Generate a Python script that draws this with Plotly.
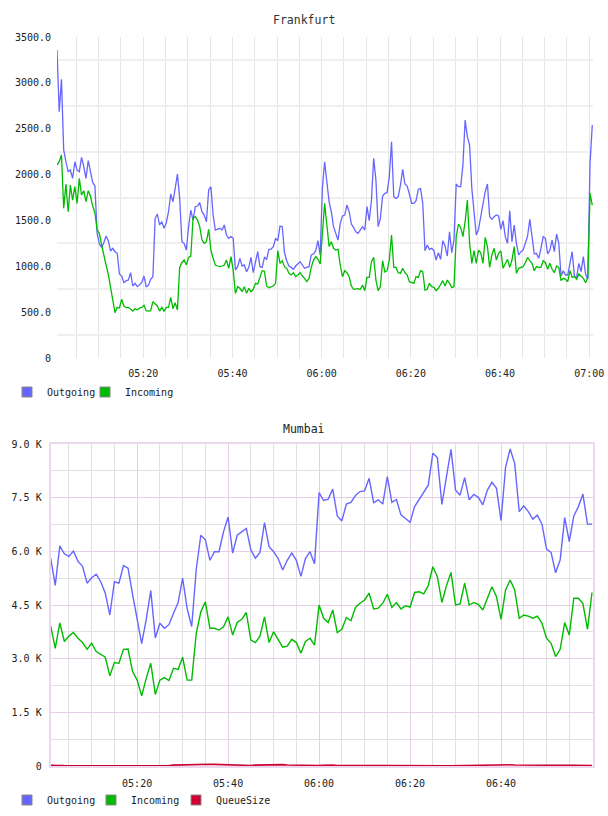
import pandas as pd
import plotly.graph_objects as go

DAY = "2024-01-01"

# ---------------- Frankfurt (30 s samples from 05:00:40) ----------------
frankfurt_outgoing = [
    3358, 2686, 3038, 2268, 2140, 2031, 2050, 1959, 2140, 2050,
    2031, 2188, 2086, 1959, 2152, 2031, 1915, 1875, 1359, 1243,
    1206, 1257, 1330, 1279, 1167, 1196, 1159, 1141, 916, 894,
    821, 843, 850, 930, 785, 814, 778, 796, 825, 894,
    778, 792, 858, 887, 1523, 1570, 1450, 1486, 1414, 1475,
    1595, 1788, 1704, 1850, 2006, 1741, 1268, 1250, 1177, 1432,
    1613, 1504, 1650, 1657, 1693, 1595, 1559, 1486, 1832, 1868,
    1559, 1395, 1403, 1414, 1395, 1450, 1341, 1305, 1323, 1305,
    959, 996, 1087, 1003, 1014, 941, 988, 1097, 930, 1068,
    1159, 996, 988, 1097, 1076, 1185, 1188, 1214, 1305, 1279,
    1439, 1432, 1148, 1061, 1003, 988, 967, 1003, 1032, 1050,
    1014, 978, 988, 996, 1123, 1134, 1170, 1279, 1123, 1850,
    2140, 1900, 1704, 1595, 1432, 1359, 1286, 1468, 1548, 1559,
    1668, 1595, 1461, 1421, 1377, 1359, 1403, 1432, 1395, 1650,
    1497, 1722, 2177, 1941, 1432, 1523, 1766, 1795, 1802, 1977,
    2358, 1759, 1741, 1759, 1886, 2057, 1897, 1875, 1788, 1686,
    1686, 1715, 1839, 1850, 1686, 1170, 1232, 1185, 1196, 1170,
    1068, 1148, 1076, 1279, 1221, 1112, 1377, 1148, 1286, 1897,
    1868, 1868, 2100, 2595, 2413, 2322, 1850, 1632, 1341, 1403,
    1523, 1679, 1813, 1897, 1541, 1512, 1541, 1559, 1548, 1403,
    1497, 1323, 1250, 1606, 1268, 1450, 1250, 1123, 1159, 1177,
    1250, 1330, 1512, 1286, 1134, 1141, 1087, 1196, 1323, 1305,
    1134, 1177, 1286, 1159, 1352, 1250, 894, 952, 905, 905,
    1050, 1159, 894, 880, 1032, 941, 1105, 916, 858, 2122,
    2540,
]
frankfurt_incoming = [
    2104, 2140, 2213, 1632, 1897, 1595, 1886, 1722, 1868, 1686,
    1959, 1777, 1824, 1704, 1824, 1766, 1657, 1584, 1395, 1359,
    1232, 1105, 1014, 912, 770, 650, 494, 552, 545, 640,
    567, 549, 552, 531, 512, 538, 523, 545, 552, 574,
    516, 512, 516, 614, 589, 567, 512, 552, 509, 552,
    552, 661, 538, 603, 523, 988, 1039, 1068, 1014, 1097,
    1112, 1523, 1541, 1504, 1432, 1286, 1250, 1268, 1403, 1177,
    1087, 1014, 1003, 996, 1003, 1014, 1068, 978, 1105, 959,
    705, 778, 760, 723, 778, 705, 760, 723, 749, 814,
    807, 887, 952, 945, 785, 767, 778, 785, 814, 1170,
    1032, 1061, 996, 978, 923, 905, 930, 887, 905, 930,
    894, 869, 832, 869, 988, 1068, 1105, 1076, 1025, 1414,
    1686, 1450, 1217, 1268, 1196, 1177, 1185, 1014, 887, 952,
    930, 887, 785, 749, 756, 756, 749, 796, 734, 879,
    879, 1050, 1097, 850, 734, 778, 1061, 938, 952, 1068,
    1341, 988, 988, 930, 923, 978, 930, 905, 832, 821,
    814, 887, 879, 952, 941, 741, 749, 814, 778, 770,
    734, 760, 807, 843, 785, 850, 814, 770, 778, 1323,
    1461, 1424, 1323, 1486, 1722, 1250, 1032, 1170, 1032, 1177,
    1148, 1032, 1315, 1214, 988, 1123, 1196, 1068, 1141, 1167,
    978, 1032, 1076, 988, 1068, 1214, 923, 978, 988, 996,
    1039, 1097, 1061, 1032, 952, 996, 988, 988, 1061, 1039,
    967, 1032, 967, 930, 1003, 988, 843, 869, 858, 832,
    952, 879, 887, 858, 916, 887, 869, 821, 879, 1795,
    1668,
]

# ---------------- Mumbai (1 min samples from 05:01) ----------------
mumbai_outgoing = [
    5800, 5050, 6150, 5930, 5860, 6010, 5720, 5580, 5110, 5260,
    5360, 5150, 4830, 4220, 5150, 5110, 5600, 5530, 4800, 4100,
    3420, 4100, 4900, 3580, 3990, 3850, 3950, 4270, 4560, 5250,
    4400, 3900, 5500, 6450, 6320, 5750, 5990, 5990, 6550, 6960,
    5950, 6450, 6550, 6640, 6040, 5810, 5970, 6800, 6130, 5990,
    5800, 5480, 5750, 5950, 5750, 5300, 5800, 5990, 5650, 7640,
    7420, 7460, 7740, 6990, 6850, 7320, 7370, 7560, 7670, 7690,
    8040, 7360, 7440, 7320, 8090, 7370, 7450, 7020, 6920, 6810,
    7250, 7450, 7670, 7850, 8740, 8620, 7310, 8090, 8850, 7710,
    7570, 8060, 7440, 7590, 7510, 7300, 7710, 7930, 7760, 6860,
    8350, 8860, 8460, 7110, 7270, 7110, 6900, 7010, 6760, 6060,
    5970, 5400, 5760, 6940, 6270, 6990, 7250, 7600, 6760, 6760,
]
mumbai_incoming = [
    3910, 3290, 4000, 3480, 3630, 3730, 3570, 3450, 3260, 3430,
    3200, 3120, 3040, 2520, 2890, 2870, 3260, 3270, 2640, 2400,
    1960, 2450, 2870, 2000, 2400, 2470, 2390, 2730, 2700, 3040,
    2400, 2400, 3710, 4310, 4590, 3850, 3850, 3800, 3890, 4170,
    3660, 4010, 4100, 4290, 3520, 3450, 3630, 4170, 3450, 3750,
    3540, 3320, 3350, 3540, 3450, 3150, 3480, 3570, 3380, 4500,
    4130, 4010, 4360, 3730, 3820, 4150, 4060, 4430, 4550, 4640,
    4830, 4390, 4410, 4550, 4800, 4430, 4570, 4390, 4480, 4440,
    4850, 4870, 4810, 5040, 5570, 5290, 4570, 5040, 5410, 4500,
    4530, 5110, 4500, 4570, 4520, 4360, 4690, 5010, 4730, 4100,
    4920, 5200, 4920, 4130, 4220, 4190, 4130, 4190, 3990, 3570,
    3430, 3060, 3260, 4010, 3660, 4690, 4690, 4540, 3820, 4850,
]
mumbai_queue = [
    20, 25, 15, 10, 15, 12, 8, 5, 5, 6,
    4, 3, 5, 4, 3, 4, 5, 3, 4, 5,
    6, 4, 5, 8, 10, 12, 15, 25, 30, 28,
    20, 25, 30, 40, 55, 50, 45, 40, 38, 35,
    30, 20, 15, 12, 15, 25, 30, 35, 40, 45,
    42, 38, 30, 25, 20, 15, 10, 8, 10, 12,
    20, 30, 25, 15, 10, 8, 10, 12, 15, 18,
    20, 18, 15, 12, 10, 8, 6, 5, 6, 8,
    10, 12, 10, 8, 6, 5, 4, 5, 6, 8,
    10, 15, 20, 25, 30, 35, 38, 40, 42, 45,
    40, 35, 30, 28, 25, 20, 18, 15, 12, 10,
    8, 10, 12, 15, 18, 20, 18, 15, 12, 10,
]

frankfurt_y_ticks = [0, 500, 1000, 1500, 2000, 2500, 3000, 3500]
frankfurt_y_labels = ["0", "500.0", "1000.0", "1500.0", "2000.0", "2500.0", "3000.0", "3500.0"]
mumbai_y_ticks = [0, 1500, 3000, 4500, 6000, 7500, 9000]
mumbai_y_labels = ["0", "1.5 K", "3.0 K", "4.5 K", "6.0 K", "7.5 K", "9.0 K"]
frankfurt_x_labels = ["05:20", "05:40", "06:00", "06:20", "06:40", "07:00"]
mumbai_x_labels = ["05:20", "05:40", "06:00", "06:20", "06:40"]

frankfurt_time = pd.date_range(f"{DAY} 05:00:40", periods=len(frankfurt_outgoing), freq="30s")
mumbai_time = pd.date_range(f"{DAY} 05:01:00", periods=len(mumbai_outgoing), freq="1min")

BLUE = "#6666ff"
GREEN = "#00bb00"
RED = "#cc0033"
FONT = "DejaVu Sans Mono"
W, H = 608, 816

fig = go.Figure()
fig.add_trace(go.Scatter(x=frankfurt_time, y=frankfurt_outgoing, mode="lines", name="Outgoing",
                         line=dict(color=BLUE, width=1.3), xaxis="x", yaxis="y", showlegend=False))
fig.add_trace(go.Scatter(x=frankfurt_time, y=frankfurt_incoming, mode="lines", name="Incoming",
                         line=dict(color=GREEN, width=1.3), xaxis="x", yaxis="y", showlegend=False))
fig.add_trace(go.Scatter(x=mumbai_time, y=mumbai_outgoing, mode="lines", name="Outgoing",
                         line=dict(color=BLUE, width=1.4), xaxis="x2", yaxis="y2", showlegend=False))
fig.add_trace(go.Scatter(x=mumbai_time, y=mumbai_incoming, mode="lines", name="Incoming",
                         line=dict(color=GREEN, width=1.4), xaxis="x2", yaxis="y2", showlegend=False))
fig.add_trace(go.Scatter(x=mumbai_time, y=mumbai_queue, mode="lines", name="QueueSize",
                         line=dict(color=RED, width=1.6), xaxis="x2", yaxis="y2", showlegend=False))

def legend_proxy(name, color, legend, xa, ya):
    fig.add_trace(go.Scatter(x=[None], y=[None], mode="markers", name=name,
                             marker=dict(symbol="square", size=10, color=color,
                                         line=dict(color="#888888", width=1)),
                             legend=legend, xaxis=xa, yaxis=ya, showlegend=True))

# one legend per entry so each swatch sits where it does in the original
legend_proxy("Outgoing", BLUE, "legend", "x", "y")
legend_proxy("Incoming", GREEN, "legend2", "x", "y")
legend_proxy("Outgoing", BLUE, "legend3", "x2", "y2")
legend_proxy("Incoming", GREEN, "legend4", "x2", "y2")
legend_proxy("QueueSize", RED, "legend5", "x2", "y2")

tick_font = dict(family=FONT, size=10, color="#222222")
legend_common = dict(orientation="h", xanchor="left", yanchor="middle",
                     font=dict(family=FONT, size=10, color="#222222"),
                     bgcolor="rgba(0,0,0,0)", itemclick=False, itemdoubleclick=False)

fig.update_layout(
    width=W, height=H,
    margin=dict(l=0, r=0, t=0, b=0),
    paper_bgcolor="white", plot_bgcolor="white",
    xaxis=dict(
        type="date", domain=[57 / W, 593 / W], anchor="y",
        range=[f"{DAY} 05:00:40", f"{DAY} 07:00:50"],
        tickmode="array", tickvals=[f"{DAY} {t}" for t in frankfurt_x_labels], ticktext=frankfurt_x_labels,
        showgrid=True, gridcolor="#e6e6e6", gridwidth=1,
        minor=dict(tick0=f"{DAY} 05:00", dtick=300000, showgrid=True, gridcolor="#e6e6e6", gridwidth=1),
        ticks="", showline=False, zeroline=False, tickfont=tick_font, ticklabelstandoff=8,
        automargin=False, fixedrange=True,
    ),
    yaxis=dict(
        domain=[(H - 358) / H, (H - 37) / H], anchor="x", range=[0, 3500],
        tickmode="array", tickvals=frankfurt_y_ticks, ticktext=frankfurt_y_labels,
        showgrid=False,
        minor=dict(tick0=250, dtick=500, showgrid=True, gridcolor="#efefef", gridwidth=2),
        ticks="", showline=False, zeroline=False, tickfont=tick_font, ticklabelstandoff=5,
        automargin=False, fixedrange=True,
    ),
    xaxis2=dict(
        type="date", domain=[50.7 / W, 593 / W], anchor="y2",
        range=[f"{DAY} 05:01:00", f"{DAY} 07:00:13"],
        tickmode="array", tickvals=[f"{DAY} {t}" for t in mumbai_x_labels], ticktext=mumbai_x_labels,
        showgrid=True, gridcolor="#e6cfe6", gridwidth=1,
        minor=dict(tick0=f"{DAY} 05:00", dtick=300000, showgrid=True, gridcolor="#e0e0e0", gridwidth=1),
        ticks="", showline=True, mirror=True, linecolor="#ecd8ec", linewidth=2,
        zeroline=False, tickfont=tick_font, ticklabelstandoff=7,
        automargin=False, fixedrange=True,
    ),
    yaxis2=dict(
        domain=[(H - 766) / H, (H - 444) / H], anchor="x2", range=[0, 9000],
        tickmode="array", tickvals=mumbai_y_ticks, ticktext=mumbai_y_labels,
        showgrid=True, gridcolor="#e6cfe6", gridwidth=1,
        minor=dict(tick0=750, dtick=1500, showgrid=True, gridcolor="#e0e0e0", gridwidth=1),
        ticks="", showline=True, mirror=True, linecolor="#ecd8ec", linewidth=2,
        zeroline=False, tickfont=tick_font, ticklabelstandoff=5,
        automargin=False, fixedrange=True,
    ),
    legend=dict(x=7 / W, y=(H - 392) / H, **legend_common),
    legend2=dict(x=85 / W, y=(H - 392) / H, **legend_common),
    legend3=dict(x=7 / W, y=(H - 800) / H, **legend_common),
    legend4=dict(x=91 / W, y=(H - 800) / H, **legend_common),
    legend5=dict(x=176 / W, y=(H - 800) / H, **legend_common),
    annotations=[
        dict(text="Frankfurt", x=304 / W, y=(H - 20) / H, xref="paper", yref="paper",
             xanchor="center", yanchor="middle",
             showarrow=False, font=dict(family=FONT, size=11.5, color="#333333")),
        dict(text="Mumbai", x=304 / W, y=(H - 429) / H, xref="paper", yref="paper",
             xanchor="center", yanchor="middle",
             showarrow=False, font=dict(family=FONT, size=11.5, color="#222222")),
    ],
    showlegend=True,
)

fig.write_html("out.html")
